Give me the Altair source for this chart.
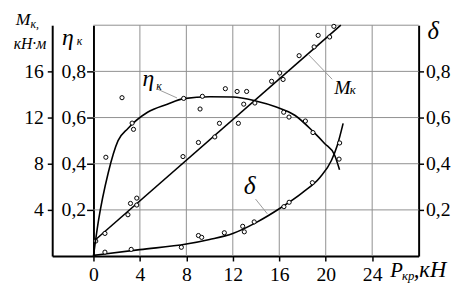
import altair as alt
import pandas as pd

# ---------------- data ----------------
# M_k (kN·m) straight fitted line and measured points
m_line_x = [0.0, 21.3]
m_line_y = [1.26, 20.0]
m_pts_x = [0.2, 0.99, 2.97, 3.19, 3.73, 3.73, 7.71, 9.04, 10.45, 10.85, 12.48,
           15.34, 16.04, 16.33, 17.71, 19.0, 19.35, 20.34, 20.7]
m_pts_y = [1.3, 1.96, 3.58, 4.56, 5.02, 4.42, 8.62, 9.84, 10.32, 11.5, 11.5,
           15.14, 15.86, 15.3, 17.36, 18.12, 19.12, 18.98, 19.9]

# efficiency eta_k curve and points
eta_x = [0, 0.42, 1.27, 2.12, 2.97, 4.66, 6.36, 7.77, 10.0, 12.0, 13.98, 15.68,
         17.37, 18.9, 19.9, 20.76, 21.19]
eta_y = [0, 0.149, 0.36, 0.50, 0.553, 0.623, 0.658, 0.682, 0.690, 0.689, 0.672,
         0.647, 0.609, 0.540, 0.488, 0.438, 0.374]
eta_pts_x = [1.07, 2.46, 3.33, 3.45, 7.77, 9.18, 9.38, 11.36, 12.37, 12.94, 13.19,
             13.9, 16.38, 16.84, 18.25, 18.9, 21.15]
eta_pts_y = [0.428, 0.686, 0.576, 0.549, 0.683, 0.637, 0.692, 0.725, 0.713, 0.658,
             0.713, 0.663, 0.623, 0.602, 0.585, 0.535, 0.42]

# slip delta curve and points
delta_x = [0, 4, 8, 10, 12, 14, 16, 18, 19.5, 20.5, 21.0, 21.5]
delta_y = [0.003, 0.028, 0.052, 0.072, 0.098, 0.145, 0.205, 0.275, 0.34, 0.415,
           0.48, 0.575]
delta_pts_x = [0.99, 3.25, 7.57, 9.04, 9.32, 11.27, 12.85, 12.99, 13.84, 16.4,
               16.85, 18.85, 21.2]
delta_pts_y = [0.017, 0.029, 0.038, 0.089, 0.081, 0.101, 0.129, 0.105, 0.148,
               0.214, 0.233, 0.318, 0.49]

x_ticks = [0, 4, 8, 12, 16, 20, 24]
m_ticks = [4, 8, 12, 16]
frac_ticks = [0.2, 0.4, 0.6, 0.8]
hgrid = [0.2, 0.4, 0.6, 0.8, 1.0]
vgrid = [4, 8, 12, 16, 20, 24]

# ---------------- chart ----------------
W, H = 373, 235
FONT = "Liberation Serif"
GRID = "#8f8f8f"

xs = alt.Scale(domain=[-3.55, 28], nice=False, zero=False)
fs = alt.Scale(domain=[0, 1], nice=False)
ms = alt.Scale(domain=[0, 20], nice=False)

xaxis = alt.Axis(values=x_ticks, grid=False, title=None, domainColor="black",
                 domainWidth=2, tickColor="black", tickWidth=1.5, tickSize=5,
                 labelPadding=4, labelFont=FONT, labelFontSize=20,
                 labelColor="black")

comma = "replace(format(datum.value, '.1f'), '.', ',')"

def df(**cols):
    return pd.DataFrame(cols)

one = pd.DataFrame({"a": [0]})

hg = alt.Chart(df(v=hgrid)).mark_rule(color=GRID, strokeWidth=1).encode(
    y=alt.Y("v:Q", scale=fs, axis=None),
    x=alt.X(datum=0, type="quantitative", scale=xs, axis=xaxis),
    x2=alt.X2(datum=28),
)
vg = alt.Chart(df(v=vgrid)).mark_rule(color=GRID, strokeWidth=1).encode(
    x=alt.X("v:Q", scale=xs, axis=xaxis),
    y=alt.Y(datum=0, type="quantitative", scale=fs, axis=None),
    y2=alt.Y2(datum=1),
)

m_axis = alt.Axis(values=m_ticks, orient="left", title=None, grid=False,
                  domainColor="black", domainWidth=2, tickColor="black",
                  tickWidth=1.5, tickSize=5, labelPadding=4, labelFont=FONT,
                  labelFontSize=20, labelColor="black")
eta_axis = alt.Axis(values=frac_ticks, orient="left", offset=-42, title=None,
                    grid=False, domainColor="black", domainWidth=2,
                    tickColor="black", tickWidth=1.5, tickSize=7,
                    labelPadding=1, labelFont=FONT, labelFontSize=20,
                    labelColor="black", labelExpr=comma)
delta_axis = alt.Axis(values=frac_ticks, orient="right", title=None, grid=False,
                      domainColor="black", domainWidth=2, tickColor="black",
                      tickWidth=1.5, tickSize=5, labelPadding=2, labelFont=FONT,
                      labelFontSize=20, labelColor="black", labelExpr=comma)

m_line = alt.Chart(df(x=m_line_x, y=m_line_y)).mark_line(
    color="black", strokeWidth=1.6).encode(
    x=alt.X("x:Q", scale=xs, axis=xaxis),
    y=alt.Y("y:Q", scale=ms, axis=m_axis),
)
m_pts = alt.Chart(df(x=m_pts_x, y=m_pts_y)).mark_point(
    shape="circle", filled=True, fill="white", stroke="black", strokeWidth=1,
    size=18, opacity=1).encode(
    x=alt.X("x:Q", scale=xs, axis=xaxis),
    y=alt.Y("y:Q", scale=ms, axis=None),
)
eta_line = alt.Chart(df(x=eta_x, y=eta_y)).mark_line(
    color="black", strokeWidth=1.6, interpolate="monotone").encode(
    x=alt.X("x:Q", scale=xs, axis=xaxis),
    y=alt.Y("y:Q", scale=fs, axis=eta_axis),
)
eta_pts = alt.Chart(df(x=eta_pts_x, y=eta_pts_y)).mark_point(
    shape="circle", filled=True, fill="white", stroke="black", strokeWidth=1,
    size=18, opacity=1).encode(
    x=alt.X("x:Q", scale=xs, axis=xaxis),
    y=alt.Y("y:Q", scale=fs, axis=None),
)
delta_line = alt.Chart(df(x=delta_x, y=delta_y)).mark_line(
    color="black", strokeWidth=1.6, interpolate="monotone").encode(
    x=alt.X("x:Q", scale=xs, axis=xaxis),
    y=alt.Y("y:Q", scale=fs, axis=delta_axis),
)
delta_pts = alt.Chart(df(x=delta_pts_x, y=delta_pts_y)).mark_point(
    shape="circle", filled=True, fill="white", stroke="black", strokeWidth=1,
    size=18, opacity=1).encode(
    x=alt.X("x:Q", scale=xs, axis=xaxis),
    y=alt.Y("y:Q", scale=fs, axis=None),
)

def label(txt, px, py, size, align="left", italic=True):
    return alt.Chart(one).mark_text(
        text=txt, font=FONT, fontSize=size, align=align, baseline="alphabetic",
        fontStyle="italic" if italic else "normal", color="black").encode(
        x=alt.value(px), y=alt.value(py))

def leader(x1, y1, x2, y2):
    return alt.Chart(one).mark_rule(color="#9a9a9a", strokeWidth=1).encode(
        x=alt.value(x1), y=alt.value(y1), x2=alt.value(x2), y2=alt.value(y2))

texts = [
    label("M", -37, 0, 18), label("к,", -22, 3, 12),
    label("кН·м", -6, 24, 16, align="right"),
    label("η", 10, 20, 24), label("к", 25, 20, 12),
    label("δ", 382, 14, 25),
    label("η", 92, 62, 24), label("к", 106, 66, 12),
    label("δ", 195, 172, 26),
    label("M", 287, 70, 20), label("к", 303, 70, 13),
    label("P", 344, 256, 21), label("кр", 356, 259, 13), label(",кН", 368, 256, 23),
    leader(107, 65, 127, 74), leader(207, 177, 219, 192), leader(261, 30, 285, 55),
]

chart = alt.layer(hg, vg, m_line, m_pts, eta_line, eta_pts, delta_line, delta_pts,
                  *texts).resolve_scale(y="independent").properties(
    width=W, height=H,
    autosize=alt.AutoSizeParams(type="none"),
    padding={"left": 45, "top": 15, "right": 36, "bottom": 31},
    background="white",
).configure_view(stroke=None).configure_axis(
    labelFont=FONT, labelFontSize=20, labelColor="black"
).configure_text(font=FONT)

chart.save("out.html", embed_options={"renderer": "svg", "actions": False})
